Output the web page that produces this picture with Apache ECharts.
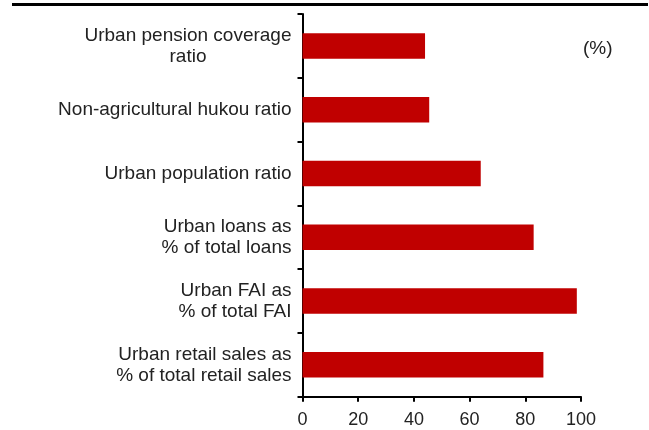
<!DOCTYPE html>
<html>
<head>
<meta charset="utf-8">
<script src="https://cdn.jsdelivr.net/npm/echarts@6/dist/echarts.min.js"></script>
<style>
html,body{margin:0;padding:0;background:#fff;}
#main{width:649px;height:430px;}
</style>
</head>
<body>
<div id="main"></div>
<script>
var categories = [
  "Urban pension coverage\nratio",
  "Non-agricultural hukou ratio",
  "Urban population ratio",
  "Urban loans as\n% of total loans",
  "Urban FAI as\n% of total FAI",
  "Urban retail sales as\n% of total retail sales"
];
var values = [44.0, 45.5, 64.0, 83.0, 98.5, 86.5];
var xTicks = [0, 20, 40, 60, 80, 100];
var unitLabel = "(%)";

var chart = echarts.init(document.getElementById('main'), null, {renderer: 'canvas'});
var font = "Liberation Sans, Arial, sans-serif";

chart.setOption({
  animation: false,
  backgroundColor: '#fff',
  grid: {left: 302.5, right: 68, top: 14, bottom: 33.3, containLabel: false},
  xAxis: {
    type: 'value',
    min: xTicks[0],
    max: xTicks[xTicks.length - 1],
    interval: xTicks[1] - xTicks[0],
    axisLine: {show: true, lineStyle: {color: '#000', width: 2}},
    axisTick: {show: true, length: 5, lineStyle: {color: '#000', width: 2}},
    splitLine: {show: false},
    axisLabel: {color: '#222', fontFamily: font, fontSize: 18, margin: 14}
  },
  yAxis: {
    type: 'category',
    inverse: true,
    data: categories,
    axisLine: {show: true, lineStyle: {color: '#000', width: 2}},
    axisTick: {show: true, length: 5, lineStyle: {color: '#000', width: 2}},
    axisLabel: {
      color: '#222', fontFamily: font, fontSize: 19, margin: 11, lineHeight: 21,
      formatter: function (v) {
        if (v.indexOf('ratio') > 0 && v.indexOf('\n') > 0) {
          var parts = v.split('\n');
          return '{a|' + parts[0] + '}\n{c|' + parts[1] + '}';
        }
        return v;
      },
      rich: {
        a: {fontFamily: font, fontSize: 19, color: '#222', lineHeight: 21},
        c: {fontFamily: font, fontSize: 19, color: '#222', lineHeight: 21, width: 200, align: 'center'}
      }
    }
  },
  series: [{
    type: 'bar',
    data: values,
    barWidth: '40%',
    itemStyle: {color: '#C00000'}
  }],
  graphic: [
    {type: 'rect', shape: {x: 12, y: 3, width: 636, height: 3}, style: {fill: '#000'}},
    {type: 'text', left: 583, top: 39, style: {text: unitLabel, font: '19px ' + font, fill: '#222'}}
  ]
});
</script>
</body>
</html>
